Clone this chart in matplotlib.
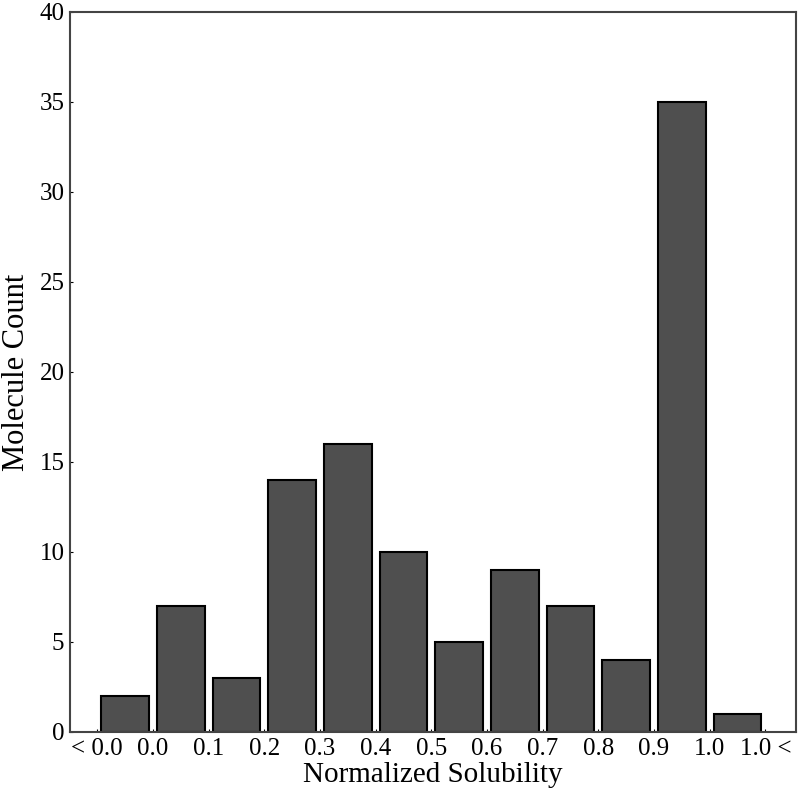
import matplotlib
matplotlib.use("Agg")
import matplotlib.pyplot as plt
import numpy as np

tick_labels = ["< 0.0", "0.0", "0.1", "0.2", "0.3", "0.4", "0.5", "0.6", "0.7", "0.8", "0.9", "1.0", "1.0 <"]
counts = [2, 7, 3, 14, 16, 10, 5, 9, 7, 4, 35, 1]

plt.rcParams['font.family'] = ['Liberation Serif', 'DejaVu Serif']

fig = plt.figure(figsize=(8, 8), dpi=100)
ax = fig.add_axes([0.0875, 0.085, 0.9075, 0.9])

x = np.arange(len(counts)) + 0.5
ax.bar(x, counts, width=0.86, color="#4f4f4f", edgecolor="black", linewidth=1.5)

ax.set_xticks(np.arange(len(tick_labels)))
ax.set_xticklabels(tick_labels)
ax.set_xlim(-0.49, 12.55)
ax.set_ylim(0, 40)
ax.set_yticks(range(0, 41, 5))
ax.tick_params(direction="in", length=2, labelsize=18, pad=4)
for s in ax.spines.values():
    s.set_color("#444444")
    s.set_linewidth(1.5)

ax.set_xlabel("Normalized Solubility", fontsize=21, labelpad=2)
ax.set_ylabel("Molecule Count", fontsize=22, labelpad=6)

fig.savefig("out.png", dpi=100)
